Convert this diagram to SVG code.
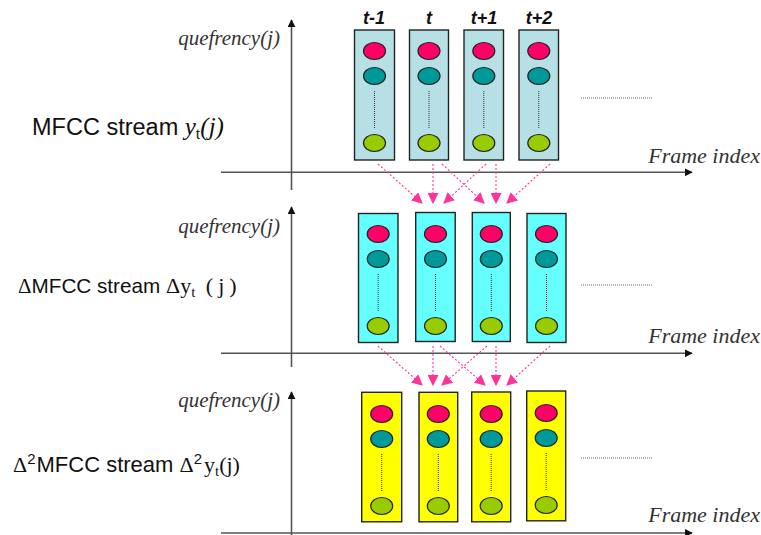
<svg xmlns="http://www.w3.org/2000/svg" width="761" height="535" viewBox="0 0 761 535">
  <defs>
    <marker id="axisHead" viewBox="0 0 10 10" refX="9" refY="5" markerWidth="8" markerHeight="8" markerUnits="userSpaceOnUse" orient="auto">
      <path d="M0,0 L10,5 L0,10 z" fill="#111"/>
    </marker>
    <marker id="pinkHead" viewBox="0 0 10 10" refX="9" refY="5" markerWidth="11" markerHeight="11" markerUnits="userSpaceOnUse" orient="auto">
      <path d="M0,0 L10,5 L0,10 z" fill="#ff3399"/>
    </marker>
    <style>
      .axis { stroke: #555; stroke-width: 1.6; fill: none; }
      .ax-arrow { marker-end: url(#axisHead); }
      .link { stroke: #ff3399; stroke-width: 1.1; stroke-dasharray: 2 2; fill: none; marker-end: url(#pinkHead); }
      .box { stroke: #222; stroke-width: 1.4; }
      .b1 { fill: #b7e0e6; }
      .b2 { fill: #66ffff; }
      .b3 { fill: #ffff00; }
      .red { fill: #ff0066; stroke: #222; stroke-width: 1.2; }
      .teal { fill: #009999; stroke: #222; stroke-width: 1.2; }
      .lime { fill: #99cc00; stroke: #222; stroke-width: 1.2; }
      .dots { stroke: #333; stroke-width: 1; stroke-dasharray: 1 1; }
      .more { stroke: #666; stroke-width: 1; stroke-dasharray: 1 1; }
      .q { font-family: "Liberation Serif", serif; font-style: italic; font-size: 21px; fill: #333; }
      .fi { font-family: "Liberation Serif", serif; font-style: italic; font-size: 22px; fill: #333; }
      .lbl { font-family: "Liberation Sans", Arial, sans-serif; fill: #111; }
      .ser { font-family: "Liberation Serif", serif; }
      .tl { font-family: "Liberation Sans", Arial, sans-serif; font-size: 18px; font-weight: bold; font-style: italic; fill: #111; text-anchor: middle; }
    </style>
    <!-- one coefficient column: three circles and a dotted gap -->
    <g id="col">
      <ellipse class="red" cx="0" cy="0" rx="11" ry="8.5"/>
      <ellipse class="teal" cx="0" cy="25" rx="11" ry="8.5"/>
      <line class="dots" x1="0" y1="40" x2="0" y2="77"/>
      <ellipse class="lime" cx="0" cy="92" rx="11" ry="8.5"/>
    </g>
  </defs>
  <rect width="761" height="535" fill="#fff"/>

  <!-- axes -->
  <g id="axes">
    <line class="axis ax-arrow" x1="291.5" y1="190" x2="291.5" y2="20"/>
    <line class="axis ax-arrow" x1="221" y1="172.3" x2="692" y2="172.3"/>
    <line class="axis ax-arrow" x1="291.5" y1="367" x2="291.5" y2="207"/>
    <line class="axis ax-arrow" x1="221" y1="353.3" x2="692" y2="353.3"/>
    <line class="axis ax-arrow" x1="291.5" y1="535" x2="291.5" y2="392"/>
    <line class="axis ax-arrow" x1="221" y1="533" x2="692" y2="533"/>
  </g>

  <!-- axis and stream labels -->
  <g id="labels">
    <text class="q" x="280" y="45" text-anchor="end">quefrency(j)</text>
    <text class="q" x="280" y="233" text-anchor="end">quefrency(j)</text>
    <text class="q" x="280" y="407" text-anchor="end">quefrency(j)</text>
    <text class="fi" x="760" y="163" text-anchor="end">Frame index</text>
    <text class="fi" x="760" y="343" text-anchor="end">Frame index</text>
    <text class="fi" x="760" y="522" text-anchor="end">Frame index</text>
    <text class="lbl" x="32" y="135" font-size="23.5">MFCC stream <tspan class="ser" font-style="italic" font-size="25">y</tspan><tspan class="ser" font-size="16" dy="4">t</tspan><tspan class="ser" font-style="italic" font-size="25" dy="-4">(j)</tspan></text>
    <text class="lbl" x="18" y="293" font-size="20.7"><tspan class="ser" font-size="21">Δ</tspan>MFCC stream <tspan class="ser" font-size="22">Δy</tspan><tspan class="ser" font-size="15" dy="4">t</tspan><tspan class="ser" font-size="22" dy="-4" letter-spacing="5"> (j)</tspan></text>
    <text class="lbl" x="13" y="472" font-size="22"><tspan class="ser" font-size="22">Δ</tspan><tspan font-size="15" dy="-8">2</tspan><tspan dy="8" dx="1">MFCC stream </tspan><tspan class="ser" font-size="22">Δ</tspan><tspan font-size="15" dy="-8">2</tspan><tspan class="ser" font-size="22" dy="8" dx="2">y</tspan><tspan class="ser" font-size="15" dy="4">t</tspan><tspan class="ser" font-size="22" dy="-4">(j)</tspan></text>
    <text class="tl" x="374" y="24">t-1</text>
    <text class="tl" x="429" y="24">t</text>
    <text class="tl" x="484" y="24">t+1</text>
    <text class="tl" x="539" y="24">t+2</text>
  </g>

  <!-- continuation dots -->
  <g id="ellipsis">
    <line class="more" x1="581" y1="98" x2="653" y2="98"/>
    <line class="more" x1="581" y1="285" x2="653" y2="285"/>
    <line class="more" x1="581" y1="458" x2="653" y2="458"/>
  </g>

  <!-- MFCC frames -->
  <g id="mfcc-t-1"><rect class="box b1" x="354.5" y="30" width="40" height="130"/><use href="#col" x="374.5" y="51"/></g>
  <g id="mfcc-t"><rect class="box b1" x="409.5" y="30" width="39" height="130"/><use href="#col" x="429" y="51"/></g>
  <g id="mfcc-t+1"><rect class="box b1" x="464" y="30" width="39.5" height="130"/><use href="#col" x="483.8" y="51"/></g>
  <g id="mfcc-t+2"><rect class="box b1" x="519" y="30" width="39.5" height="130"/><use href="#col" x="538.8" y="51"/></g>

  <!-- delta frames -->
  <g id="delta-t-1"><rect class="box b2" x="358.5" y="213.5" width="39.5" height="129"/><use href="#col" x="378.2" y="234"/></g>
  <g id="delta-t"><rect class="box b2" x="415.7" y="212.5" width="39.5" height="129"/><use href="#col" x="435.5" y="234"/></g>
  <g id="delta-t+1"><rect class="box b2" x="472.3" y="212.5" width="38" height="129"/><use href="#col" x="491.3" y="234"/></g>
  <g id="delta-t+2"><rect class="box b2" x="527" y="213.5" width="39" height="129"/><use href="#col" x="546.5" y="234"/></g>

  <!-- delta-delta frames -->
  <g id="ddelta-t-1"><rect class="box b3" x="361.7" y="392.3" width="40" height="129.5"/><use href="#col" x="381.7" y="414"/></g>
  <g id="ddelta-t"><rect class="box b3" x="419" y="392.3" width="38.7" height="129.5"/><use href="#col" x="438.3" y="414"/></g>
  <g id="ddelta-t+1"><rect class="box b3" x="471.7" y="392" width="39" height="129.8"/><use href="#col" x="491.2" y="414"/></g>
  <g id="ddelta-t+2"><rect class="box b3" x="526.7" y="391" width="39" height="129.8"/><use href="#col" x="546.2" y="413"/></g>

  <!-- regression connectors -->
  <g id="connectors">
    <line class="link" x1="378" y1="164" x2="422" y2="203"/>
    <line class="link" x1="433" y1="164" x2="433" y2="203"/>
    <line class="link" x1="486" y1="164" x2="444" y2="203"/>
    <line class="link" x1="442" y1="164" x2="484" y2="203"/>
    <line class="link" x1="496" y1="164" x2="496" y2="203"/>
    <line class="link" x1="550" y1="164" x2="507" y2="203"/>

    <line class="link" x1="378" y1="346" x2="422" y2="385"/>
    <line class="link" x1="433" y1="346" x2="433" y2="385"/>
    <line class="link" x1="487" y1="346" x2="442" y2="385"/>
    <line class="link" x1="440" y1="346" x2="485" y2="385"/>
    <line class="link" x1="496" y1="346" x2="496" y2="385"/>
    <line class="link" x1="550" y1="346" x2="507" y2="385"/>
  </g>
</svg>
